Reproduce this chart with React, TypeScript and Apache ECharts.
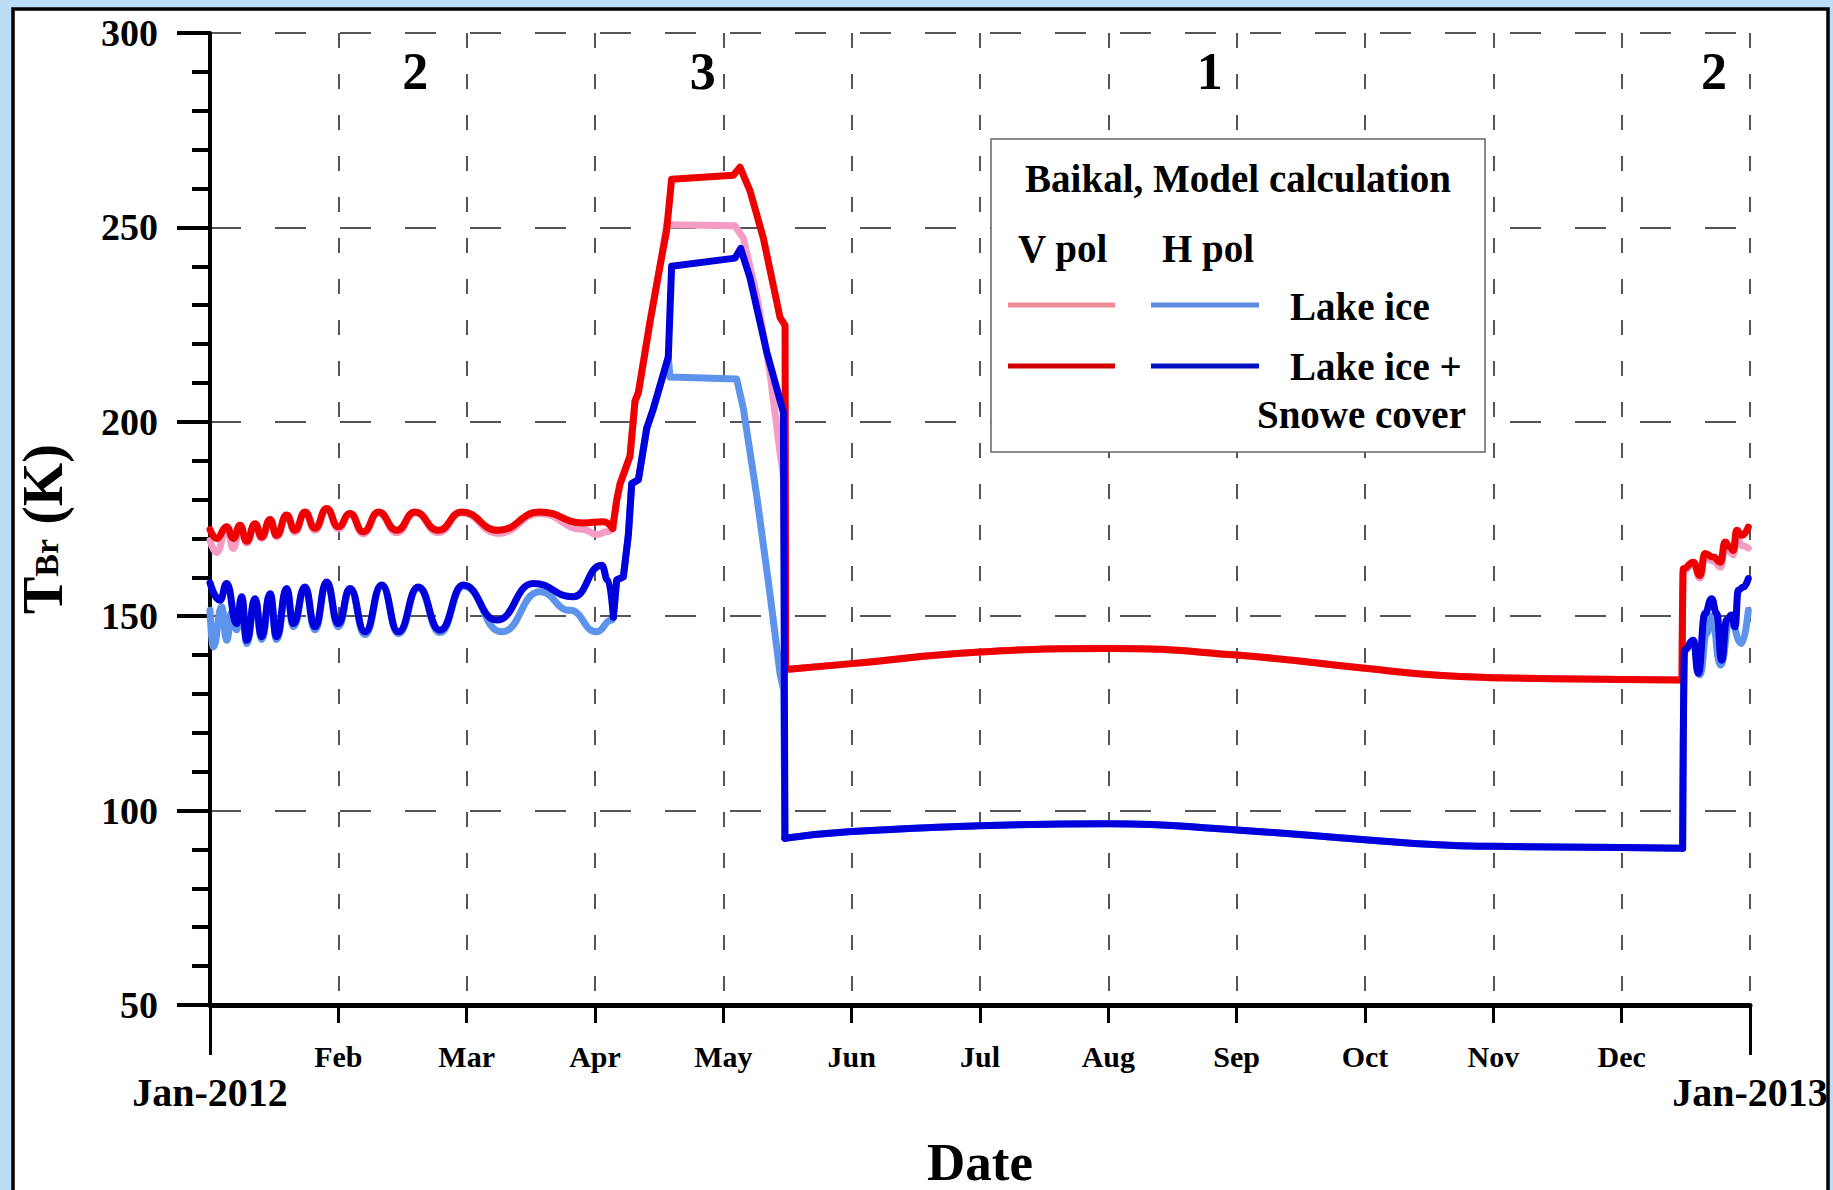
import React, { useEffect, useRef } from 'react';
import * as echarts from 'echarts';

const FONT = '"Liberation Serif", "Times New Roman", serif';

// ---- tick labels ----
const MONTH_TICKS = ['', 'Feb', 'Mar', 'Apr', 'May', 'Jun', 'Jul', 'Aug', 'Sep', 'Oct', 'Nov', 'Dec', ''];
const YEAR_TICKS = ['Jan-2012', 'Jan-2013'];

// ---- region annotations (month position, value) ----
const REGION_LABELS = ['2', '3', '1', '2'];
const REGION_MONTHS = [1.6, 3.84, 7.79, 11.72];
const REGION_VALUE = 290.2;

// ---- V pol, lake ice + snow cover (red) ----
const V_SNOW_WINTER: [number, number][] = [
  [0.0, 172.3], [0.052, 170.0], [0.13, 173.0], [0.182, 170.0], [0.234, 173.4], [0.286, 169.3],
  [0.351, 173.8], [0.403, 170.4], [0.468, 174.9], [0.519, 170.8], [0.597, 176.0], [0.662, 172.1],
  [0.74, 176.8], [0.818, 172.6], [0.909, 177.7], [1.0, 173.0], [1.091, 176.4], [1.195, 171.7],
  [1.312, 176.8], [1.455, 172.1], [1.597, 176.8], [1.779, 172.1], [1.96, 176.8], [2.247, 172.1],
  [2.571, 176.8], [2.909, 174.0], [3.065, 174.3], [3.138, 172.6],
];
const V_SNOW_SPRING: [number, number][] = [
  [3.169, 179.8], [3.195, 184.0], [3.273, 191.2], [3.312, 205.4], [3.338, 207.5], [3.429, 225.8],
  [3.506, 240.0], [3.558, 249.2], [3.597, 262.4], [4.078, 263.4], [4.13, 265.5], [4.208, 259.4],
  [4.312, 247.2], [4.442, 226.8], [4.481, 224.8],
];
// ---- V pol, lake ice (pink) ----
const V_ICE_WINTER: [number, number][] = [
  [0.0, 169.5], [0.052, 166.4], [0.13, 172.6], [0.182, 167.4], [0.234, 173.2], [0.286, 168.8],
  [0.351, 173.6], [0.403, 170.0], [0.468, 174.7], [0.519, 170.4], [0.597, 175.8], [0.662, 171.6],
  [0.74, 176.6], [0.818, 172.1], [0.909, 177.5], [1.0, 172.5], [1.091, 176.2], [1.195, 171.2],
  [1.312, 176.6], [1.455, 171.5], [1.597, 176.6], [1.779, 171.5], [1.96, 176.6], [2.247, 171.3],
  [2.571, 176.4], [2.909, 172.3], [3.013, 171.0], [3.1, 171.8], [3.138, 172.6],
];
const V_ICE_SPRING: [number, number][] = [
  [3.169, 179.8], [3.195, 184.0], [3.273, 191.2], [3.312, 205.4], [3.338, 207.5], [3.429, 225.8],
  [3.506, 240.0], [3.558, 250.7], [4.091, 250.4], [4.156, 247.2], [4.26, 232.5], [4.364, 212.5],
  [4.442, 192.0], [4.468, 186.1],
];
// summer (V pol, both surfaces coincide)
const V_SUMMER: [number, number][] = [
  [4.486, 136.3], [5, 137.8], [6, 140.8], [7, 141.7], [8, 140.0], [9, 136.6], [9.57, 134.8],
  [10, 134.2], [11, 133.7], [11.47, 133.6],
];
const V_SNOW_DEC: [number, number][] = [
  [11.48, 162.2], [11.558, 163.9], [11.61, 160.5], [11.649, 166.1], [11.714, 165.2], [11.771, 163.9],
  [11.805, 169.1], [11.844, 167.8], [11.87, 166.9], [11.896, 172.1], [11.935, 170.8], [11.987, 172.9],
];
const V_ICE_DEC: [number, number][] = [
  [11.48, 161.8], [11.558, 163.3], [11.61, 159.8], [11.649, 165.5], [11.714, 164.2], [11.771, 162.6],
  [11.805, 168.0], [11.844, 166.5], [11.87, 165.8], [11.896, 170.5], [11.935, 168.2], [11.987, 167.5],
];

// ---- H pol, lake ice + snow cover (dark blue) ----
const H_SNOW_WINTER: [number, number][] = [
  [0.0, 158.6], [0.078, 154.1], [0.13, 158.4], [0.208, 148.1], [0.247, 155.0], [0.286, 143.8],
  [0.351, 154.5], [0.403, 144.7], [0.468, 155.8], [0.519, 144.7], [0.597, 157.1], [0.649, 148.1],
  [0.74, 157.5], [0.818, 147.3], [0.909, 158.8], [1.0, 148.1], [1.091, 157.1], [1.208, 146.0],
  [1.338, 158.0], [1.468, 146.0], [1.623, 157.5], [1.792, 146.4], [1.974, 158.0], [2.234, 149.0],
  [2.519, 158.4], [2.831, 155.0], [3.052, 163.1], [3.1, 159.3], [3.143, 149.8],
];
const H_SNOW_SPRING: [number, number][] = [
  [3.169, 159.3], [3.221, 160.1], [3.26, 170.9], [3.286, 184.1], [3.338, 185.1], [3.403, 198.3],
  [3.455, 203.4], [3.571, 216.6], [3.597, 240.0], [4.091, 242.1], [4.135, 244.6], [4.208, 237.0],
  [4.338, 218.0], [4.468, 202.4],
];
// ---- H pol, lake ice (light blue) ----
const H_ICE_WINTER: [number, number][] = [
  [0.0, 151.5], [0.026, 142.1], [0.091, 152.4], [0.13, 143.8], [0.169, 151.0], [0.208, 146.5],
  [0.247, 154.5], [0.286, 143.0], [0.351, 154.2], [0.403, 144.0], [0.468, 155.5], [0.519, 144.0],
  [0.597, 156.8], [0.649, 147.3], [0.74, 157.2], [0.818, 146.5], [0.909, 158.5], [1.0, 147.3],
  [1.091, 156.8], [1.208, 145.3], [1.338, 157.7], [1.468, 145.5], [1.623, 157.2], [1.792, 145.8],
  [1.974, 157.7], [2.273, 146.0], [2.571, 156.3], [2.805, 151.5], [3.013, 146.0], [3.13, 149.0],
  [3.143, 149.8],
];
const H_ICE_SPRING: [number, number][] = [
  [3.169, 159.3], [3.221, 160.1], [3.26, 170.9], [3.286, 184.1], [3.338, 185.1], [3.403, 198.3],
  [3.455, 203.4], [3.571, 216.6], [3.584, 211.5], [4.104, 211.0], [4.156, 203.4], [4.26, 181.0],
  [4.364, 155.6], [4.442, 135.2], [4.47, 131.0],
];
const H_SUMMER: [number, number][] = [
  [4.48, 92.9], [5, 94.6], [6, 96.1], [7, 96.6], [8, 95.0], [9, 92.5], [9.57, 91.2],
  [10, 90.8], [11, 90.5], [11.475, 90.3],
];
const H_SNOW_DEC: [number, number][] = [
  [11.49, 141.3], [11.558, 143.8], [11.597, 135.3], [11.649, 150.7], [11.701, 154.5], [11.74, 150.7],
  [11.779, 138.7], [11.818, 149.0], [11.857, 150.3], [11.883, 147.3], [11.909, 156.7], [11.948, 157.5],
  [11.987, 159.7],
];
const H_ICE_DEC: [number, number][] = [
  [11.49, 141.3], [11.558, 143.8], [11.61, 134.9], [11.662, 145.6], [11.701, 150.0], [11.771, 137.4],
  [11.844, 149.0], [11.935, 143.0], [11.987, 151.5],
];

const C_RED = '#EE0000';
const C_BLUE = '#0000DD';
const C_PINK = '#F49CC3';
const C_LBLUE = '#5E93EC';
const LINE_W = 7;

type Pt = [number, number];

function seg(name: string, data: Pt[], color: string, smooth: number | boolean, mono: boolean) {
  return {
    type: 'line',
    name,
    data,
    showSymbol: false,
    symbol: 'none',
    smooth,
    smoothMonotone: mono ? 'x' : undefined,
    lineStyle: { color, width: LINE_W, cap: 'round', join: 'round' },
    emphasis: { disabled: true },
    silent: true,
  };
}

// One curve drawn as four joined pieces: oscillating winter, piecewise spring,
// smooth summer and oscillating December.
function curve(name: string, color: string, winter: Pt[], spring: Pt[], summer: Pt[], dec: Pt[]) {
  const s = [winter[winter.length - 1], ...spring, summer[0]];
  const d = [summer[summer.length - 1], ...dec];
  return [
    seg(name, winter, color, 0.5, true),
    seg(name, s, color, false, false),
    seg(name, summer, color, 0.5, false),
    seg(name, d, color, 0.5, true),
  ];
}

const boldText = (size: number) => ({ fontFamily: FONT, fontWeight: 'bold', fontSize: size, color: '#000' });

export default function App() {
  const ref = useRef<HTMLDivElement>(null);
  useEffect(() => {
    const chart = echarts.init(ref.current!, null, { renderer: 'svg' });
    const legendText = (text: string, x: number, y: number, align = 'left') => ({
      type: 'text',
      z: 101,
      style: { text, x, y, align, verticalAlign: 'middle', fill: '#000', fontFamily: FONT, fontWeight: 'bold', fontSize: 39 },
    });
    const legendLine = (x1: number, x2: number, y: number, color: string) => ({
      type: 'line',
      z: 101,
      shape: { x1, y1: y, x2, y2: y },
      style: { stroke: color, lineWidth: 5 },
    });
    chart.setOption({
      animation: false,
      backgroundColor: '#BCDDF8',
      grid: { left: 210, right: 83, top: 33, bottom: 185, containLabel: false },
      xAxis: [
        {
          type: 'value', min: 0, max: 12, interval: 1, position: 'bottom',
          axisLine: { show: true, lineStyle: { color: '#000', width: 5 } },
          axisTick: { show: true, length: 18, lineStyle: { color: '#000', width: 3 } },
          axisLabel: { ...boldText(30), margin: 36, showMinLabel: true, showMaxLabel: true,
            formatter: (v: number) => MONTH_TICKS[Math.round(v)] ?? '' },
          splitLine: { show: true, lineStyle: { color: '#555', width: 2, type: [15, 26] } },
        },
        {
          type: 'value', min: 0, max: 12, interval: 12, position: 'bottom', offset: 0,
          axisLine: { show: false },
          axisTick: { show: true, length: 50, lineStyle: { color: '#000', width: 3 } },
          axisLabel: { ...boldText(40), margin: 67, showMinLabel: true, showMaxLabel: true,
            formatter: (v: number) => (v < 6 ? YEAR_TICKS[0] : YEAR_TICKS[1]) },
          splitLine: { show: false },
        },
      ],
      yAxis: {
        type: 'value', min: 50, max: 300, interval: 50,
        axisLine: { show: true, lineStyle: { color: '#000', width: 4 } },
        axisTick: { show: true, length: 33, lineStyle: { color: '#000', width: 4 } },
        minorTick: { show: true, splitNumber: 5, length: 18, lineStyle: { color: '#000', width: 4 } },
        axisLabel: { ...boldText(38), margin: 52 },
        splitLine: { show: true, lineStyle: { color: '#555', width: 2, type: [31, 34] } },
      },
      series: [
        ...curve('V pol Lake ice', C_PINK, V_ICE_WINTER, V_ICE_SPRING, V_SUMMER, V_ICE_DEC),
        ...curve('H pol Lake ice', C_LBLUE, H_ICE_WINTER, H_ICE_SPRING, H_SUMMER, H_ICE_DEC),
        ...curve('V pol Lake ice + Snowe cover', C_RED, V_SNOW_WINTER, V_SNOW_SPRING, V_SUMMER, V_SNOW_DEC),
        ...curve('H pol Lake ice + Snowe cover', C_BLUE, H_SNOW_WINTER, H_SNOW_SPRING, H_SUMMER, H_SNOW_DEC),
      ],
      graphic: [
        {
          type: 'rect', z: -100, silent: true,
          shape: { x: 13, y: 9, width: 1815, height: 1300 },
          style: { fill: '#fff', stroke: '#000', lineWidth: 3.5 },
        },
        {
          type: 'text', z: 50,
          x: 43, y: 529, rotation: Math.PI / 2,
          style: {
            text: '{t|T}{s|Br}{t| (K)}',
            align: 'center', verticalAlign: 'middle',
            rich: {
              t: { fontFamily: FONT, fontWeight: 'bold', fontSize: 56, fill: '#000' },
              s: { fontFamily: FONT, fontWeight: 'bold', fontSize: 34, fill: '#000', verticalAlign: 'bottom', padding: [0, 0, 8, 0] },
            },
          },
        },
        {
          type: 'text', z: 50,
          style: { text: 'Date', x: 980, y: 1162, align: 'center', verticalAlign: 'middle', fill: '#000', fontFamily: FONT, fontWeight: 'bold', fontSize: 53 },
        },
        {
          type: 'rect', z: 100,
          shape: { x: 991, y: 139, width: 494, height: 313 },
          style: { fill: '#fff', stroke: '#666', lineWidth: 1.5 },
        },
        legendText('Baikal, Model calculation', 1238, 178, 'center'),
        legendText('V pol', 1018, 248),
        legendText('H pol', 1162, 248),
        legendLine(1008, 1115, 305, '#EE8C96'),
        legendLine(1151, 1259, 305, '#5B8AE0'),
        legendLine(1008, 1115, 366, '#D00000'),
        legendLine(1151, 1259, 366, '#0010C0'),
        legendText('Lake ice', 1290, 306),
        legendText('Lake ice +', 1290, 366),
        legendText('Snowe cover', 1466, 414, 'right'),
      ],
    });
    // region annotations placed through the chart's own axes
    const regionTexts = REGION_LABELS.map((label, i) => {
      const p = chart.convertToPixel({ gridIndex: 0 }, [REGION_MONTHS[i], REGION_VALUE]) as number[];
      return {
        type: 'text', id: 'region' + i, z: 60, silent: true,
        style: { text: label, x: p[0], y: p[1], align: 'center', verticalAlign: 'middle', fill: '#000', fontFamily: FONT, fontWeight: 'bold', fontSize: 52 },
      };
    });
    chart.setOption({ graphic: regionTexts });
    return () => chart.dispose();
  }, []);
  return <div ref={ref} style={{ position: 'absolute', left: 0, top: 0, width: 1833, height: 1190 }} />;
}
